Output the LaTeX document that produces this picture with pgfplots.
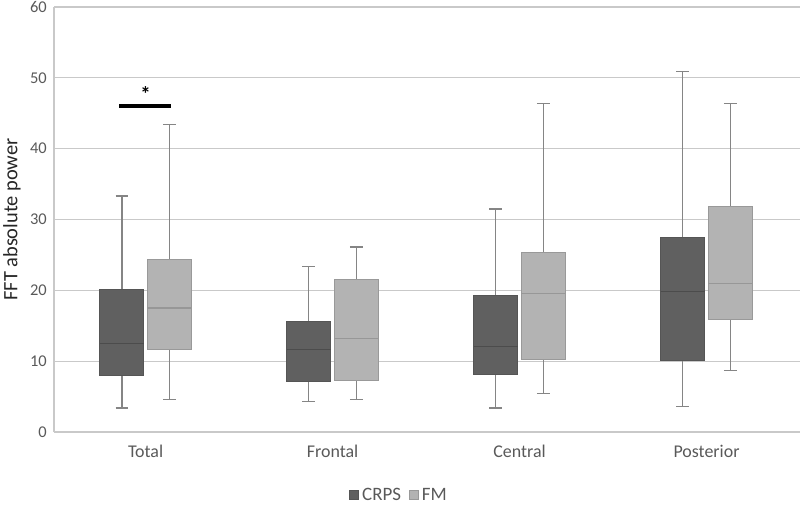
\documentclass[border=0pt]{standalone}
\usepackage{fontspec}
\setmainfont{Carlito}
\usepackage{pgfplots}
\pgfplotsset{compat=1.18}
\usepgfplotslibrary{statistics}
\definecolor{crps}{HTML}{606060}
\definecolor{fm}{HTML}{B3B3B3}
\definecolor{crpsedge}{HTML}{555555}
\definecolor{fmedge}{HTML}{999999}
\definecolor{crpsmed}{HTML}{4C4C4C}
\definecolor{fmmed}{HTML}{979797}
\definecolor{whisk}{HTML}{858585}
\definecolor{gridc}{HTML}{C9C9C9}
\definecolor{tickc}{HTML}{595959}
\pgfplotsset{
  crpsbox/.style={draw=whisk, line width=1.3bp,
    boxplot/draw direction=y,
    boxplot/every box/.style={draw=crpsedge, fill=crps, line width=1bp},
    boxplot/every median/.style={draw=crpsmed, line width=1.3bp},
    boxplot/box extend=0.236, boxplot/whisker extend=0.068},
  fmbox/.style={draw=whisk, line width=1.3bp,
    boxplot/draw direction=y,
    boxplot/every box/.style={draw=fmedge, fill=fm, line width=1bp},
    boxplot/every median/.style={draw=fmmed, line width=1.3bp},
    boxplot/box extend=0.236, boxplot/whisker extend=0.068},
}
\begin{document}
\begin{tikzpicture}
\begin{axis}[
  scale only axis, width=746bp, height=425bp,
  xmin=-0.49, xmax=3.5, ymin=0, ymax=60,
  ytick={0,10,...,60},
  xtick={0,1,2,3}, xticklabels={Total,Frontal,Central,Posterior},
  major tick length=0pt,
  ymajorgrids, grid style={draw=gridc, line width=1.2bp},
  axis lines*=left,
  axis line style={-, draw=gridc, line width=1.2bp},
  /pgf/number format/assume math mode=true,
  yticklabel style={font=\fontsize{16.5}{16.5}\selectfont, text=tickc, inner sep=0pt, xshift=-7bp},
  xticklabel style={font=\fontsize{18}{18}\selectfont, text=tickc, inner sep=0pt, anchor=north, yshift=-13bp},
  ylabel={FFT absolute power},
  ylabel style={font=\fontsize{20.5}{20.5}\selectfont, text=black!85, at={(rel axis cs:0,0.5)}, anchor=north, inner sep=0pt, yshift=51bp},
  legend columns=2,
  legend style={draw=none, fill=none, at={(0.4625,-0.148)}, anchor=center,
    font=\fontsize{19}{19}\selectfont, text=tickc,
    /tikz/every odd column/.append style={column sep=2bp},
    /tikz/every even column/.append style={column sep=6bp}},
  legend image code/.code={\draw[#1] (0bp,-4.25bp) rectangle (8.5bp,4.25bp);},
]
\coordinate (O) at (rel axis cs:0,0);
% Total
\addplot[crpsbox, forget plot, boxplot prepared={draw position=-0.127, lower whisker=3.4, lower quartile=8.0, median=12.5, upper quartile=20.1, upper whisker=33.3}] coordinates {};
\addplot[fmbox, forget plot, boxplot prepared={draw position=0.127, lower whisker=4.6, lower quartile=11.7, median=17.5, upper quartile=24.4, upper whisker=43.4}] coordinates {};
% Frontal
\addplot[crpsbox, forget plot, boxplot prepared={draw position=0.873, lower whisker=4.3, lower quartile=7.1, median=11.6, upper quartile=15.6, upper whisker=23.4}] coordinates {};
\addplot[fmbox, forget plot, boxplot prepared={draw position=1.127, lower whisker=4.6, lower quartile=7.3, median=13.2, upper quartile=21.5, upper whisker=26.1}] coordinates {};
% Central
\addplot[crpsbox, forget plot, boxplot prepared={draw position=1.873, lower whisker=3.4, lower quartile=8.1, median=12.05, upper quartile=19.25, upper whisker=31.5}] coordinates {};
\addplot[fmbox, forget plot, boxplot prepared={draw position=2.127, lower whisker=5.4, lower quartile=10.25, median=19.6, upper quartile=25.3, upper whisker=46.4}] coordinates {};
% Posterior
\addplot[crpsbox, forget plot, boxplot prepared={draw position=2.873, lower whisker=3.6, lower quartile=10.1, median=19.8, upper quartile=27.4, upper whisker=50.9}] coordinates {};
\addplot[fmbox, forget plot, boxplot prepared={draw position=3.127, lower whisker=8.7, lower quartile=15.9, median=21.0, upper quartile=31.8, upper whisker=46.4}] coordinates {};
% significance bar
\addplot[black, line width=3.5bp, forget plot] coordinates {(-0.14,46) (0.137,46)};
\node[font=\fontsize{21}{21}\selectfont\bfseries, inner sep=0pt] at (axis cs:0,47.7) {*};
\addlegendimage{draw=crpsedge, fill=crps}
\addlegendimage{draw=fmedge, fill=fm}
\legend{CRPS,FM}
\end{axis}
\pgfresetboundingbox
\path (O) ++(-54bp,-75bp) rectangle ++(800bp,507bp);
\end{tikzpicture}
\end{document}
